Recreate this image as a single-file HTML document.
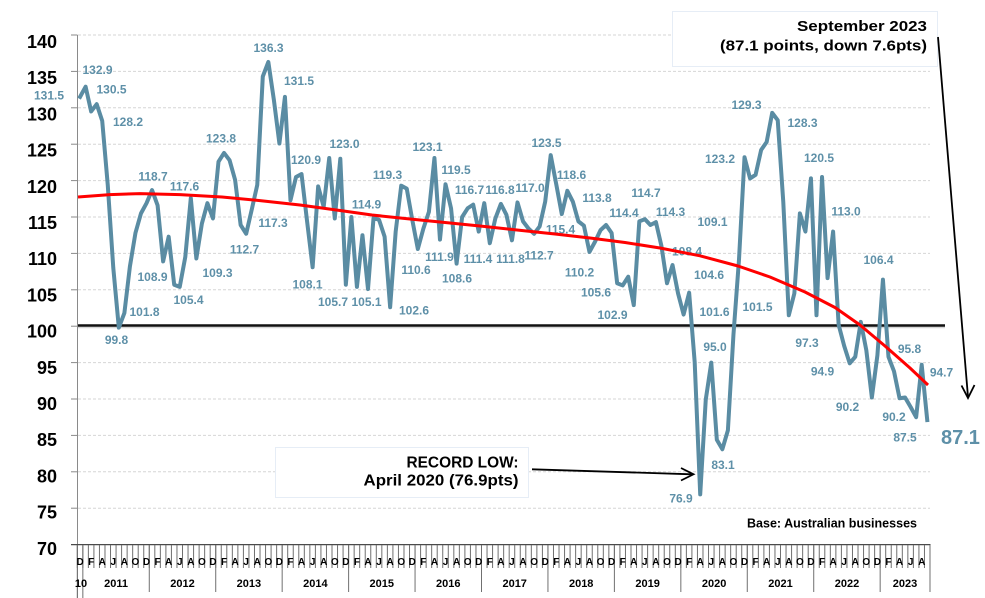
<!DOCTYPE html>
<html>
<head>
<meta charset="utf-8">
<style>
html,body{margin:0;padding:0;background:#fff;}
svg{display:block;}
text{font-family:"Liberation Sans",Arial,sans-serif;font-weight:bold;}
.yl{font-size:18px;fill:#000;text-anchor:end;}
.dl{font-size:12px;fill:#5e90a8;text-anchor:middle;}
.ml{font-size:10px;fill:#000;text-anchor:middle;}
.yr{font-size:11px;fill:#000;text-anchor:middle;}
.ann{fill:#000;text-anchor:end;}
</style>
</head>
<body>
<svg width="985" height="598" viewBox="0 0 985 598" xmlns="http://www.w3.org/2000/svg">
<rect width="985" height="598" fill="#fff"/>

<!-- gridlines -->
<g stroke="#d6d6d6" stroke-width="1" stroke-dasharray="3,2">
<line x1="78" y1="35" x2="930" y2="35"/>
<line x1="78" y1="71.4" x2="930" y2="71.4"/>
<line x1="78" y1="107.8" x2="930" y2="107.8"/>
<line x1="78" y1="144.2" x2="930" y2="144.2"/>
<line x1="78" y1="180.6" x2="930" y2="180.6"/>
<line x1="78" y1="217" x2="930" y2="217"/>
<line x1="78" y1="253.4" x2="930" y2="253.4"/>
<line x1="78" y1="289.8" x2="930" y2="289.8"/>
<line x1="78" y1="362.6" x2="930" y2="362.6"/>
<line x1="78" y1="399" x2="930" y2="399"/>
<line x1="78" y1="435.4" x2="930" y2="435.4"/>
<line x1="78" y1="471.8" x2="930" y2="471.8"/>
<line x1="78" y1="508.2" x2="930" y2="508.2"/>
</g>

<!-- y axis -->
<line x1="77.5" y1="35" x2="77.5" y2="598" stroke="#8a8a8a" stroke-width="1"/>
<g stroke="#8a8a8a" stroke-width="1">
<line x1="71" y1="35" x2="77.5" y2="35"/>
<line x1="71" y1="71.4" x2="77.5" y2="71.4"/>
<line x1="71" y1="107.8" x2="77.5" y2="107.8"/>
<line x1="71" y1="144.2" x2="77.5" y2="144.2"/>
<line x1="71" y1="180.6" x2="77.5" y2="180.6"/>
<line x1="71" y1="217" x2="77.5" y2="217"/>
<line x1="71" y1="253.4" x2="77.5" y2="253.4"/>
<line x1="71" y1="289.8" x2="77.5" y2="289.8"/>
<line x1="71" y1="326.2" x2="77.5" y2="326.2"/>
<line x1="71" y1="362.6" x2="77.5" y2="362.6"/>
<line x1="71" y1="399" x2="77.5" y2="399"/>
<line x1="71" y1="435.4" x2="77.5" y2="435.4"/>
<line x1="71" y1="471.8" x2="77.5" y2="471.8"/>
<line x1="71" y1="508.2" x2="77.5" y2="508.2"/>
</g>

<!-- y labels -->
<text class="yl" x="57" y="48">140</text>
<text class="yl" x="57" y="84.2">135</text>
<text class="yl" x="57" y="120.4">130</text>
<text class="yl" x="57" y="156.6">125</text>
<text class="yl" x="57" y="192.8">120</text>
<text class="yl" x="57" y="229">115</text>
<text class="yl" x="57" y="265.2">110</text>
<text class="yl" x="57" y="301.4">105</text>
<text class="yl" x="57" y="337.6">100</text>
<text class="yl" x="57" y="373.8">95</text>
<text class="yl" x="57" y="410">90</text>
<text class="yl" x="57" y="446.2">85</text>
<text class="yl" x="57" y="482.4">80</text>
<text class="yl" x="57" y="518.6">75</text>
<text class="yl" x="57" y="555.1">70</text>

<!-- x axis -->
<line x1="71" y1="544.6" x2="930.5" y2="544.6" stroke="#4a4a4a" stroke-width="1.3"/>
<g transform="translate(77.3 0) scale(5.537 1)">
<path vector-effect="non-scaling-stroke" stroke="#707070" stroke-width="1" fill="none" d="M0,545V568M1,545V568M2,545V568M3,545V568M4,545V568M5,545V568M6,545V568M7,545V568M8,545V568M9,545V568M10,545V568M11,545V568M12,545V568M13,545V568M14,545V568M15,545V568M16,545V568M17,545V568M18,545V568M19,545V568M20,545V568M21,545V568M22,545V568M23,545V568M24,545V568M25,545V568M26,545V568M27,545V568M28,545V568M29,545V568M30,545V568M31,545V568M32,545V568M33,545V568M34,545V568M35,545V568M36,545V568M37,545V568M38,545V568M39,545V568M40,545V568M41,545V568M42,545V568M43,545V568M44,545V568M45,545V568M46,545V568M47,545V568M48,545V568M49,545V568M50,545V568M51,545V568M52,545V568M53,545V568M54,545V568M55,545V568M56,545V568M57,545V568M58,545V568M59,545V568M60,545V568M61,545V568M62,545V568M63,545V568M64,545V568M65,545V568M66,545V568M67,545V568M68,545V568M69,545V568M70,545V568M71,545V568M72,545V568M73,545V568M74,545V568M75,545V568M76,545V568M77,545V568M78,545V568M79,545V568M80,545V568M81,545V568M82,545V568M83,545V568M84,545V568M85,545V568M86,545V568M87,545V568M88,545V568M89,545V568M90,545V568M91,545V568M92,545V568M93,545V568M94,545V568M95,545V568M96,545V568M97,545V568M98,545V568M99,545V568M100,545V568M101,545V568M102,545V568M103,545V568M104,545V568M105,545V568M106,545V568M107,545V568M108,545V568M109,545V568M110,545V568M111,545V568M112,545V568M113,545V568M114,545V568M115,545V568M116,545V568M117,545V568M118,545V568M119,545V568M120,545V568M121,545V568M122,545V568M123,545V568M124,545V568M125,545V568M126,545V568M127,545V568M128,545V568M129,545V568M130,545V568M131,545V568M132,545V568M133,545V568M134,545V568M135,545V568M136,545V568M137,545V568M138,545V568M139,545V568M140,545V568M141,545V568M142,545V568M143,545V568M144,545V568M145,545V568M146,545V568M147,545V568M148,545V568M149,545V568M150,545V568M151,545V568M152,545V568M153,545V568M154,545V568"/>
<path vector-effect="non-scaling-stroke" stroke="#707070" stroke-width="1" fill="none" d="M0,545V598M1,545V598M13,545V592M25,545V592M37,545V592M49,545V592M61,545V592M73,545V592M85,545V592M97,545V592M109,545V592M121,545V592M133,545V592M145,545V592M154,545V592"/>
</g>

<!-- month letters -->
<text class="ml" y="565" x="80.07 91.14 102.22 113.29 124.37 135.44 146.51 157.59 168.66 179.74 190.81 201.88 212.96 224.03 235.11 246.18 257.25 268.33 279.40 290.48 301.55 312.62 323.70 334.77 345.85 356.92 367.99 379.07 390.14 401.22 412.29 423.36 434.44 445.51 456.59 467.66 478.73 489.81 500.88 511.96 523.03 534.10 545.18 556.25 567.33 578.40 589.47 600.55 611.62 622.70 633.77 644.84 655.92 666.99 678.07 689.14 700.21 711.29 722.36 733.44 744.51 755.58 766.66 777.73 788.81 799.88 810.95 822.03 833.10 844.18 855.25 866.32 877.40 888.47 899.55 910.62 921.70">DFAJAODFAJAODFAJAODFAJAODFAJAODFAJAODFAJAODFAJAODFAJAODFAJAODFAJAODFAJAODFAJA</text>

<!-- year labels -->
<text class="yr" x="81" y="587">10</text>
<text class="yr" x="116.1" y="587">2011</text>
<text class="yr" x="182.5" y="587">2012</text>
<text class="yr" x="248.9" y="587">2013</text>
<text class="yr" x="315.4" y="587">2014</text>
<text class="yr" x="381.8" y="587">2015</text>
<text class="yr" x="448.3" y="587">2016</text>
<text class="yr" x="514.7" y="587">2017</text>
<text class="yr" x="581.2" y="587">2018</text>
<text class="yr" x="647.6" y="587">2019</text>
<text class="yr" x="714.1" y="587">2020</text>
<text class="yr" x="780.5" y="587">2021</text>
<text class="yr" x="847" y="587">2022</text>
<text class="yr" x="905" y="587">2023</text>

<!-- 100 line -->
<line x1="78" y1="327.5" x2="945" y2="327.5" stroke="#bbb" stroke-width="1.5" opacity="0.6"/>
<line x1="78" y1="325.5" x2="945" y2="325.5" stroke="#111" stroke-width="2.5"/>

<!-- data line -->
<g transform="matrix(5.537 0 0 -7.28 80.07 1054.2)">
<polyline vector-effect="non-scaling-stroke" fill="none" stroke="#5a8ca3" stroke-width="4" stroke-linejoin="round" stroke-linecap="square" points="0,131.5 1,132.9 2,129.5 3,130.5 4,128.2 5,119.4 6,108 7,99.8 8,101.8 9,108.2 10,112.8 11,115.5 12,116.9 13,118.7 14,116.6 15,108.9 16,112.3 17,105.7 18,105.4 19,109.5 20,117.6 21,109.3 22,114.1 23,116.9 24,114.8 25,122.6 26,123.8 27,122.8 28,120.1 29,113.9 30,112.7 31,116 32,119.4 33,134.3 34,136.3 35,131.1 36,125.1 37,131.5 38,117.3 39,120.5 40,120.9 41,114.4 42,108.1 43,119.2 44,116.4 45,123.1 46,114.8 47,123 48,105.7 49,115 50,105.4 51,112.5 52,105.1 53,114.9 54,114.6 55,112.3 56,102.6 57,113 58,119.3 59,118.9 60,114.6 61,110.6 62,113.4 63,115.7 64,123.1 65,111.9 66,119.5 67,116.2 68,108.6 69,115 70,116.2 71,116.7 72,113 73,116.9 74,111.4 75,114.8 76,116.8 77,115.3 78,111.8 79,117 80,114.4 81,113.4 82,112.7 83,113.7 84,117.1 85,123.5 86,119.5 87,115.4 88,118.6 89,117.1 90,114.4 91,113.8 92,110.2 93,111.6 94,113.2 95,113.9 96,112.8 97,105.9 98,105.6 99,106.8 100,102.9 101,114.4 102,114.7 103,113.9 104,114.3 105,111 106,105.9 107,108.4 108,104.5 109,101.6 110,104.6 111,95.1 112,76.9 113,89.9 114,95 115,84.4 116,83.1 117,85.7 118,98.8 119,109.1 120,123.2 121,120.3 122,120.8 123,124.2 124,125.3 125,129.3 126,128.3 127,117.1 128,101.5 129,104.5 130,115.5 131,113 132,120.3 133,101.5 134,120.5 135,106.6 136,113 137,100.2 138,97.3 139,94.9 140,95.8 141,100.6 142,96.7 143,90.2 144,96 145,106.4 146,95.8 147,93.8 148,90.1 149,90.2 150,88.9 151,87.5 152,94.7 153,87.1"/>
</g>

<!-- data labels -->
<g class="dl">
<text class="dl" x="49" y="99.3">131.5</text>
<text class="dl" x="97.5" y="73.8">132.9</text>
<text class="dl" x="111.5" y="93.3">130.5</text>
<text class="dl" x="128" y="125.8">128.2</text>
<text class="dl" x="116.5" y="343.8">99.8</text>
<text class="dl" x="144.5" y="315.8">101.8</text>
<text class="dl" x="153" y="180.3">118.7</text>
<text class="dl" x="152.5" y="280.8">108.9</text>
<text class="dl" x="188.5" y="303.8">105.4</text>
<text class="dl" x="184.5" y="190.3">117.6</text>
<text class="dl" x="217.5" y="276.8">109.3</text>
<text class="dl" x="221" y="142.3">123.8</text>
<text class="dl" x="244.5" y="253.3">112.7</text>
<text class="dl" x="268.5" y="51.8">136.3</text>
<text class="dl" x="299" y="84.8">131.5</text>
<text class="dl" x="273" y="226.8">117.3</text>
<text class="dl" x="306" y="163.8">120.9</text>
<text class="dl" x="307.5" y="288.3">108.1</text>
<text class="dl" x="344.5" y="147.8">123.0</text>
<text class="dl" x="333" y="305.8">105.7</text>
<text class="dl" x="366.5" y="208.3">114.9</text>
<text class="dl" x="366.5" y="305.8">105.1</text>
<text class="dl" x="387.5" y="178.8">119.3</text>
<text class="dl" x="414" y="314.3">102.6</text>
<text class="dl" x="416" y="273.8">110.6</text>
<text class="dl" x="427.5" y="150.8">123.1</text>
<text class="dl" x="456" y="173.8">119.5</text>
<text class="dl" x="439.5" y="260.8">111.9</text>
<text class="dl" x="457" y="282.3">108.6</text>
<text class="dl" x="469.5" y="193.8">116.7</text>
<text class="dl" x="478" y="262.8">111.4</text>
<text class="dl" x="500" y="193.8">116.8</text>
<text class="dl" x="510.5" y="262.8">111.8</text>
<text class="dl" x="530" y="191.8">117.0</text>
<text class="dl" x="539" y="259.3">112.7</text>
<text class="dl" x="546.5" y="146.8">123.5</text>
<text class="dl" x="560.5" y="233.3">115.4</text>
<text class="dl" x="571.5" y="178.8">118.6</text>
<text class="dl" x="597" y="201.8">113.8</text>
<text class="dl" x="579.5" y="276.3">110.2</text>
<text class="dl" x="596" y="296.3">105.6</text>
<text class="dl" x="624" y="216.8">114.4</text>
<text class="dl" x="612.5" y="318.8">102.9</text>
<text class="dl" x="646" y="196.8">114.7</text>
<text class="dl" x="670.5" y="215.8">114.3</text>
<text class="dl" x="687" y="255.3">108.4</text>
<text class="dl" x="712.5" y="225.8">109.1</text>
<text class="dl" x="709" y="278.8">104.6</text>
<text class="dl" x="714.5" y="315.8">101.6</text>
<text class="dl" x="715" y="350.8">95.0</text>
<text class="dl" x="723" y="468.8">83.1</text>
<text class="dl" x="681" y="502.3">76.9</text>
<text class="dl" x="757.5" y="310.8">101.5</text>
<text class="dl" x="720" y="162.8">123.2</text>
<text class="dl" x="746.5" y="108.8">129.3</text>
<text class="dl" x="802.5" y="126.8">128.3</text>
<text class="dl" x="807" y="346.8">97.3</text>
<text class="dl" x="819" y="161.8">120.5</text>
<text class="dl" x="846" y="215.3">113.0</text>
<text class="dl" x="822.5" y="375.3">94.9</text>
<text class="dl" x="878.5" y="263.8">106.4</text>
<text class="dl" x="847.5" y="410.8">90.2</text>
<text class="dl" x="909.5" y="352.8">95.8</text>
<text class="dl" x="941.5" y="376.3">94.7</text>
<text class="dl" x="894" y="420.8">90.2</text>
<text class="dl" x="905" y="441.3">87.5</text>
</g>
<text x="941" y="444" style="font-size:20px;fill:#5e90a8;">87.1</text>

<!-- red trend -->
<polyline fill="none" stroke="#ff0000" stroke-width="3" stroke-linejoin="round" points="78,197 110,194.6 140,193.6 180,194.6 222,197 260,200.6 300,205 340,210.5 372,215 405,218.5 440,222 480,226 517,230 555,234 590,238 625,242.5 660,248 700,255.8 738,266 770,277 805,292 835,307.5 860,325 885,346 910,368 928,385"/>

<!-- top-right annotation -->
<rect x="672.5" y="11.5" width="265" height="55" fill="#fff" stroke="#e6edf6" stroke-width="1"/>
<text class="ann" x="927" y="31" style="font-size:15px;" textLength="130" lengthAdjust="spacingAndGlyphs">September 2023</text>
<text class="ann" x="927" y="50.5" style="font-size:15px;" textLength="207" lengthAdjust="spacingAndGlyphs">(87.1 points, down 7.6pts)</text>
<line x1="938" y1="37" x2="968" y2="397" stroke="#000" stroke-width="1.8"/>
<polyline points="961.5,385.5 968,398 974.5,385" fill="none" stroke="#000" stroke-width="1.8"/>

<!-- record low annotation -->
<rect x="275.5" y="447.5" width="253" height="50" fill="#fff" stroke="#e6edf6" stroke-width="1"/>
<text class="ann" x="518.5" y="467.5" style="font-size:16px;" textLength="112" lengthAdjust="spacingAndGlyphs">RECORD LOW:</text>
<text class="ann" x="518.5" y="485.5" style="font-size:16px;" textLength="155" lengthAdjust="spacingAndGlyphs">April 2020 (76.9pts)</text>
<line x1="532" y1="469.3" x2="692" y2="474.3" stroke="#000" stroke-width="1.8"/>
<polyline points="681,468 693.5,474.3 681,480.5" fill="none" stroke="#000" stroke-width="1.8"/>

<!-- base note -->
<text x="747" y="527.5" style="font-size:13px;fill:#000;" textLength="170" lengthAdjust="spacingAndGlyphs">Base: Australian businesses</text>
</svg>
</body>
</html>
